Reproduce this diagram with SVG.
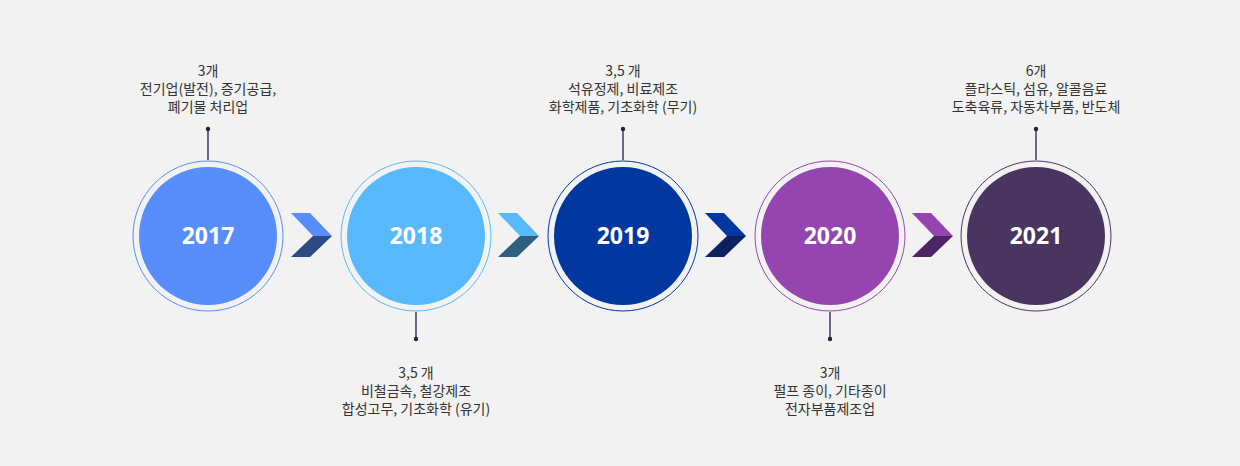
<svg xmlns="http://www.w3.org/2000/svg" width="1240" height="466" viewBox="0 0 1240 466">
<style>
.lbl{font-family:"Noto Sans CJK KR","Noto Sans",sans-serif;font-size:14px;fill:#333;text-anchor:middle}
.yr{font-family:"Noto Sans","Noto Sans CJK KR",sans-serif;font-size:23px;font-weight:bold;fill:#fff;text-anchor:middle}
.ln{stroke:#1b2440;stroke-width:1.3}
</style>
<rect width="1240" height="466" fill="#f2f2f2"/>
<g id="connectors">
<line class="ln" x1="208" y1="160" x2="208" y2="129"/><circle cx="208" cy="129" r="2.2" fill="#1b2440"/>
<line class="ln" x1="416" y1="312" x2="416" y2="339"/><circle cx="416" cy="339" r="2.2" fill="#1b2440"/>
<line class="ln" x1="623" y1="160" x2="623" y2="129"/><circle cx="623" cy="129" r="2.2" fill="#1b2440"/>
<line class="ln" x1="830" y1="312" x2="830" y2="339"/><circle cx="830" cy="339" r="2.2" fill="#1b2440"/>
<line class="ln" x1="1036" y1="160" x2="1036" y2="129"/><circle cx="1036" cy="129" r="2.2" fill="#1b2440"/>
<g id="chev1"><polygon points="291,213 310,213 332,236 313,236" fill="#588efc"/><polygon points="313,236 332,236 310,257 291,257" fill="#2c4a83"/></g>
<g id="chev2"><polygon points="498,213 517,213 539,236 520,236" fill="#59b9fd"/><polygon points="520,236 539,236 517,257 498,257" fill="#2e5f7f"/></g>
<g id="chev3"><polygon points="705,213 724,213 746,236 727,236" fill="#0038a0"/><polygon points="727,236 746,236 724,257 705,257" fill="#0d2160"/></g>
<g id="chev4"><polygon points="912,213 931,213 953,236 934,236" fill="#9445b0"/><polygon points="934,236 953,236 931,257 912,257" fill="#4e2564"/></g>
</g>
<g id="n2017"><circle cx="208" cy="236" r="75" fill="none" stroke="#588efc"/><circle cx="208" cy="236" r="69" fill="#588efc"/><text class="yr" x="208" y="244">2017</text>
<text class="lbl" x="208" y="76">3개</text><text class="lbl" x="208" y="94">전기업(발전), 증기공급,</text><text class="lbl" x="208" y="112">폐기물 처리업</text></g>
<g id="n2018"><circle cx="416" cy="236" r="75" fill="none" stroke="#59b9fd"/><circle cx="416" cy="236" r="69" fill="#59b9fd"/><text class="yr" x="416" y="244">2018</text>
<text class="lbl" x="416" y="378">3,5 개</text><text class="lbl" x="416" y="396">비철금속, 철강제조</text><text class="lbl" x="416" y="414">합성고무, 기초화학 (유기)</text></g>
<g id="n2019"><circle cx="623" cy="236" r="75" fill="none" stroke="#0038a0"/><circle cx="623" cy="236" r="69" fill="#0038a0"/><text class="yr" x="623" y="244">2019</text>
<text class="lbl" x="623" y="76">3,5 개</text><text class="lbl" x="623" y="94">석유정제, 비료제조</text><text class="lbl" x="623" y="112">화학제품, 기초화학 (무기)</text></g>
<g id="n2020"><circle cx="830" cy="236" r="75" fill="none" stroke="#9445b0"/><circle cx="830" cy="236" r="69" fill="#9445b0"/><text class="yr" x="830" y="244">2020</text>
<text class="lbl" x="830" y="378">3개</text><text class="lbl" x="830" y="396">펄프 종이, 기타종이</text><text class="lbl" x="830" y="414">전자부품제조업</text></g>
<g id="n2021"><circle cx="1036" cy="236" r="75" fill="none" stroke="#4a3561"/><circle cx="1036" cy="236" r="69" fill="#4a3561"/><text class="yr" x="1036" y="244">2021</text>
<text class="lbl" x="1036" y="76">6개</text><text class="lbl" x="1036" y="94">플라스틱, 섬유, 알콜음료</text><text class="lbl" x="1036" y="112">도축육류, 자동차부품, 반도체</text></g>
</svg>
